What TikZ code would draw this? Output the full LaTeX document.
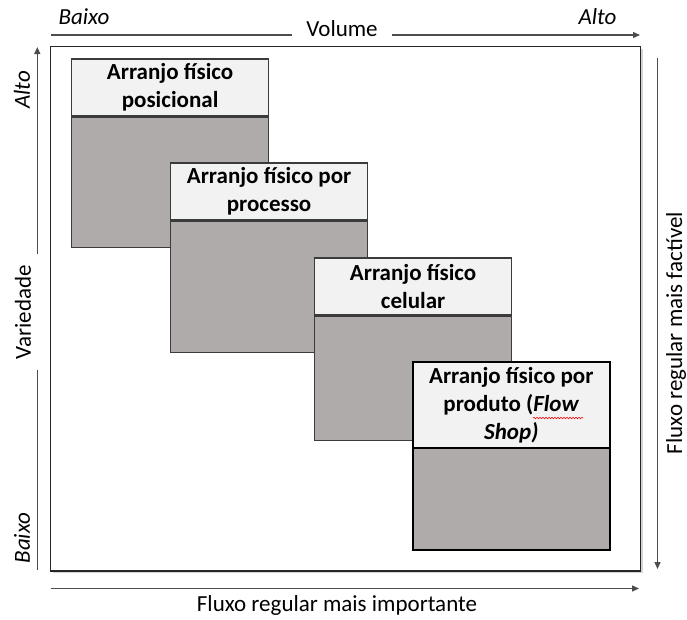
\documentclass[tikz,border=0pt]{standalone}
\usepackage{fontspec}
\setmainfont{Carlito}
\usetikzlibrary{positioning,arrows.meta,shadows,decorations.pathmorphing}
\definecolor{hdrgray}{HTML}{F2F2F2}
\definecolor{bodygray}{HTML}{AFABAB}
\definecolor{boxline}{HTML}{3B3B3B}
\definecolor{axisgray}{HTML}{4D4D4D}
\newcommand{\lblfont}{\fontsize{23}{28}\selectfont}

\begin{document}
\begin{tikzpicture}[x=1pt, y=-1pt,
  every node/.style={font=\lblfont},
  hdr/.style={draw=boxline, fill=hdrgray, line width=1.2pt, anchor=north west,
    inner sep=0pt, minimum width=197pt, minimum height=57pt, align=center,
    font=\lblfont\bfseries},
  bdy/.style={draw=boxline, fill=bodygray, line width=1.2pt, inner sep=0pt,
    minimum width=197pt},
  axline/.style={draw=axisgray, line width=1.3pt},
  axarrow/.style={axline, -{Triangle[length=7pt,width=6pt]}}]
  \useasboundingbox (0,0) rectangle (687,619);

  % Frame
  \draw[black!85, line width=1.5pt, fill=white,
    drop shadow={shadow xshift=2pt, shadow yshift=-2pt, opacity=0.35}]
    (50.7,46.7) rectangle (640.7,571);

  % Layout boxes
  \node[hdr] (pos-h) at (71,58.3) {Arranjo físico\\posicional};
  \node[bdy, minimum height=130pt, below=0pt of pos-h] (pos-b) {};

  \node[hdr] (proc-h) at (170,162.3) {Arranjo físico por\\processo};
  \node[bdy, minimum height=131pt, below=0pt of proc-h] (proc-b) {};

  \node[hdr] (cel-h) at (314,257.3) {Arranjo físico\\celular};
  \node[bdy, minimum height=124pt, below=0pt of cel-h] (cel-b) {};

  \node[bdy, minimum height=102pt, line width=2.2pt, draw=black, anchor=north west]
    (prod-b) at (411.7,446.7) {};
  \node[hdr, minimum height=86pt, line width=2.2pt, draw=black] (prod-h) at (411.7,360.7)
    {Arranjo físico por\\produto (\textit{Flow}\\\textit{Shop)}};
  \draw[red, line width=0.6pt, decorate,
    decoration={snake, amplitude=0.7pt, segment length=3pt}] (533,418) -- (583,418);

  % Volume (top)
  \node[inner xsep=14pt] (vol) at (342,29) {Volume};
  \node[anchor=west, font=\lblfont\itshape] (vol-lo) at (55,17) {Baixo};
  \node[anchor=east, font=\lblfont\itshape] (vol-hi) at (620,17) {Alto};
  \coordinate (vol-l) at (50.7,35);
  \coordinate (vol-r) at (640,35);
  \draw[axline] (vol-l) -- (vol-l -| vol.west);
  \draw[axarrow] (vol-r -| vol.east) -- (vol-r);

  % Variedade (left)
  \node[rotate=90, inner xsep=11pt] (var) at (23,312) {Variedade};
  \node[rotate=90, font=\lblfont\itshape] (var-hi) at (22,90) {Alto};
  \node[rotate=90, font=\lblfont\itshape] (var-lo) at (22,538) {Baixo};
  \coordinate (var-b) at (37.3,570);
  \coordinate (var-t) at (37.3,47);
  \draw[axline] (var-b) -- (var-b |- var.west);
  \draw[axarrow] (var-b |- var.east) -- (var-t);

  % Fluxo (right and bottom)
  \coordinate (fr-t) at (657.5,58);
  \coordinate (fr-b) at (657.5,569);
  \draw[axarrow] (fr-t) -- (fr-b);
  \node[rotate=90, inner sep=0pt] (fr-lbl) at (676,333) {Fluxo regular mais factível};

  \coordinate (fb-l) at (50.7,588.5);
  \coordinate (fb-r) at (639,588.5);
  \draw[axarrow] (fb-l) -- (fb-r);
  \node (fb-lbl) at (337,605) {Fluxo regular mais importante};
\end{tikzpicture}
\end{document}
